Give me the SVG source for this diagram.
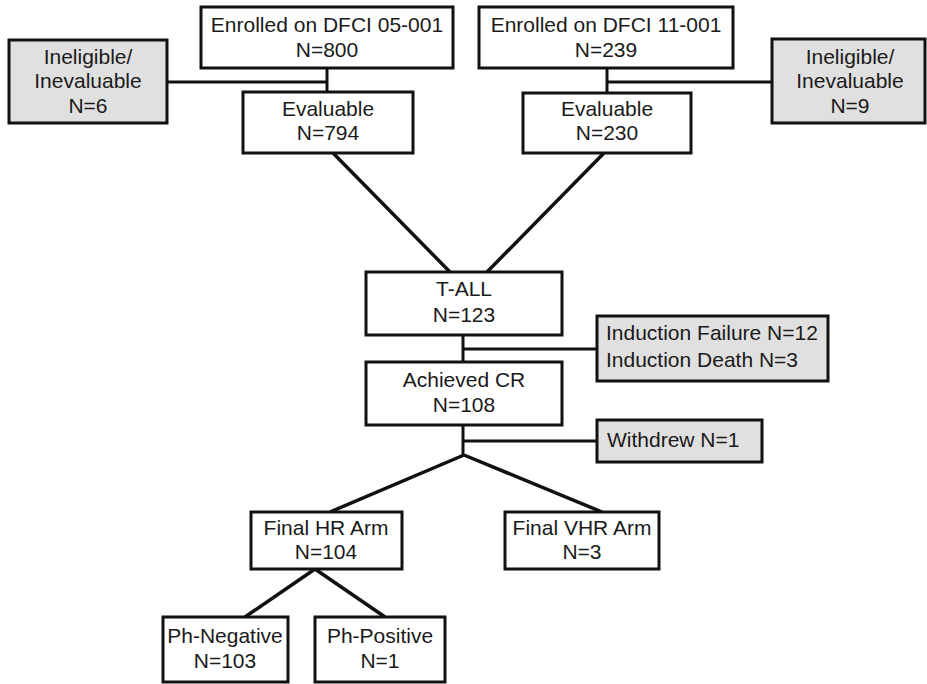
<svg xmlns="http://www.w3.org/2000/svg" width="927" height="684" viewBox="0 0 927 684">
<style>
.box{fill:#fff;stroke:#111;stroke-width:3}
.gray{fill:#e0e0e0;stroke:#111;stroke-width:3}
.t{font-family:"Liberation Sans",Arial,sans-serif;font-size:21px;fill:#1a1a1a;text-anchor:middle}
.tl{font-family:"Liberation Sans",Arial,sans-serif;font-size:21px;fill:#1a1a1a;text-anchor:start}
.c{stroke:#111;stroke-width:3;fill:none}
.d{stroke:#111;stroke-width:3.5;fill:none}
</style>
<rect width="927" height="684" fill="#fff"/>
<g id="connectors">
<line class="c" x1="327" y1="68" x2="327" y2="93"/>
<line class="c" x1="167" y1="82" x2="327" y2="82"/>
<line class="c" x1="607" y1="68" x2="607" y2="93"/>
<line class="c" x1="607" y1="82" x2="772" y2="82"/>
<line class="d" x1="333" y1="153" x2="450" y2="272"/>
<line class="d" x1="604" y1="153" x2="487" y2="272"/>
<line class="c" x1="463" y1="335" x2="463" y2="362"/>
<line class="c" x1="463" y1="349" x2="598" y2="349"/>
<line class="c" x1="463" y1="425" x2="463" y2="455"/>
<line class="c" x1="463" y1="441" x2="598" y2="441"/>
<line class="d" x1="464" y1="455" x2="330" y2="512"/>
<line class="d" x1="464" y1="455" x2="602" y2="512"/>
<line class="d" x1="315" y1="569" x2="245" y2="617"/>
<line class="d" x1="315" y1="569" x2="385" y2="617"/>
</g>
<g id="enrolled05">
<rect class="box" x="201" y="7" width="252" height="61"/>
<text class="t" x="327" y="32">Enrolled on DFCI 05-001</text>
<text class="t" x="327" y="57">N=800</text>
</g>
<g id="inelig-left">
<rect class="gray" x="9" y="40" width="158" height="83"/>
<text class="t" x="88" y="64">Ineligible/</text>
<text class="t" x="88" y="88">Inevaluable</text>
<text class="t" x="88" y="113">N=6</text>
</g>
<g id="eval794">
<rect class="box" x="243" y="92" width="170" height="61"/>
<text class="t" x="328" y="116">Evaluable</text>
<text class="t" x="328" y="140">N=794</text>
</g>
<g id="enrolled11">
<rect class="box" x="479" y="7" width="254" height="61"/>
<text class="t" x="606" y="32">Enrolled on DFCI 11-001</text>
<text class="t" x="606" y="57">N=239</text>
</g>
<g id="inelig-right">
<rect class="gray" x="772" y="39" width="153" height="84"/>
<text class="t" x="850" y="64">Ineligible/</text>
<text class="t" x="850" y="88">Inevaluable</text>
<text class="t" x="850" y="113">N=9</text>
</g>
<g id="eval230">
<rect class="box" x="523" y="93" width="168" height="60"/>
<text class="t" x="607" y="116">Evaluable</text>
<text class="t" x="607" y="140">N=230</text>
</g>
<g id="tall">
<rect class="box" x="366" y="272" width="196" height="63"/>
<text class="t" x="464" y="296">T-ALL</text>
<text class="t" x="464" y="322">N=123</text>
</g>
<g id="induction">
<rect class="gray" x="597" y="316" width="231" height="65"/>
<text class="tl" x="606" y="340">Induction Failure N=12</text>
<text class="tl" x="606" y="367">Induction Death N=3</text>
</g>
<g id="achievedcr">
<rect class="box" x="366" y="362" width="196" height="63"/>
<text class="t" x="464" y="387">Achieved CR</text>
<text class="t" x="464" y="412">N=108</text>
</g>
<g id="withdrew">
<rect class="gray" x="597" y="420" width="165" height="42"/>
<text class="tl" x="607" y="447">Withdrew N=1</text>
</g>
<g id="finalhr">
<rect class="box" x="251" y="512" width="151" height="57"/>
<text class="t" x="326" y="535">Final HR Arm</text>
<text class="t" x="326" y="559">N=104</text>
</g>
<g id="finalvhr">
<rect class="box" x="505" y="512" width="154" height="57"/>
<text class="t" x="582" y="535">Final VHR Arm</text>
<text class="t" x="582" y="559">N=3</text>
</g>
<g id="phneg">
<rect class="box" x="163" y="617" width="125" height="65"/>
<text class="t" x="225" y="643">Ph-Negative</text>
<text class="t" x="225" y="668">N=103</text>
</g>
<g id="phpos">
<rect class="box" x="315" y="617" width="130" height="65"/>
<text class="t" x="380" y="643">Ph-Positive</text>
<text class="t" x="380" y="668">N=1</text>
</g>
</svg>
